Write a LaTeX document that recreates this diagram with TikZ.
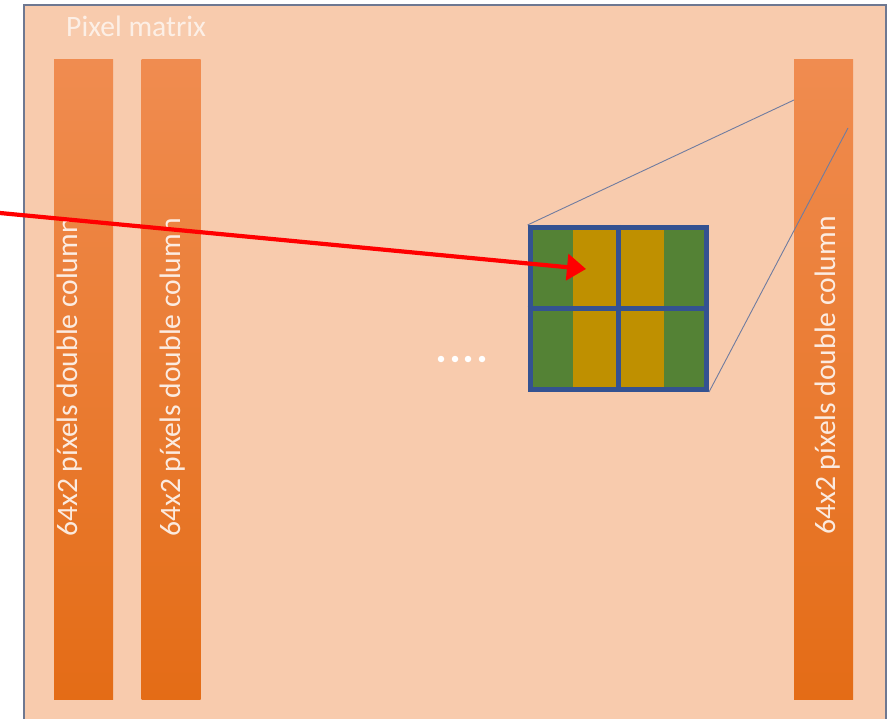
\documentclass[tikz,border=0pt]{standalone}
\usepackage{fontspec}
\setmainfont{Carlito}
\usetikzlibrary{arrows.meta}
\definecolor{bgpeach}{RGB}{248,203,173}
\definecolor{colTop}{RGB}{240,140,80}
\definecolor{colBot}{RGB}{228,108,22}
\definecolor{frameLine}{RGB}{110,120,145}
\definecolor{cellGreen}{RGB}{84,130,53}
\definecolor{cellGold}{RGB}{191,144,0}
\definecolor{gridBlue}{RGB}{52,82,145}
\definecolor{zoomLine}{RGB}{112,124,160}
\definecolor{arrowRed}{RGB}{255,0,0}
\tikzset{
  colbar/.style={inner sep=0pt, minimum width=59pt, minimum height=639pt,
    top color=colTop, bottom color=colBot, draw=none},
  coltext/.style={rotate=90, anchor=base west, inner sep=0pt,
    text=white, text opacity=0.85, font=\fontsize{29.6}{30}\selectfont},
  zoomline/.style={draw=zoomLine, line width=0.9pt},
  pointer/.style={draw=arrowRed, line width=4.2pt,
    -{Triangle[length=19pt, width=26pt]}},
  dotmark/.style={circle, fill=white, inner sep=0pt, minimum size=6.5pt},
}
\begin{document}
\begin{tikzpicture}[x=1pt, y=-1pt]
\useasboundingbox (0,0) rectangle (894,719);
\fill[white] (0,0) rectangle (894,719);

% outer matrix frame
\node[draw=frameLine, fill=bgpeach, line width=1.5pt, inner sep=0pt,
  minimum width=862pt, minimum height=730pt] (matrix) at (455,370) {};
\node[anchor=base west, inner sep=0pt, text=white, text opacity=0.7,
  font=\fontsize{29.6}{30}\selectfont] (title) at (66,37) {Pixel matrix};

% pixel double columns
\node[colbar] (c1) at (83.5,379.5) {};
\node[colbar] (c2) at (171,379.5) {};
\node[colbar] (c3) at (823.5,379.5) {};
\node[coltext] (t1) at (77,537) {64x2 píxels double column};
\node[coltext] (t2) at (180,537) {64x2 píxels double column};
\node[coltext] (t3) at (835,535) {64x2 píxels double column};

% ellipsis dots
\node[dotmark] (d1) at (441,359) {};
\node[dotmark] (d2) at (455,359) {};
\node[dotmark] (d3) at (468,359) {};
\node[dotmark] (d4) at (482,359) {};

% magnified 2x2 pixel block
\fill[cellGreen] (530,227.5) rectangle (706.5,389.5);
\fill[cellGold] (573,227.5) rectangle (664,389.5);
\node[draw=gridBlue, line width=5pt, inner sep=0pt,
  minimum width=176.5pt, minimum height=162pt] (grid) at (618.25,308.5) {};
\draw[gridBlue, line width=5pt] (grid.north) -- (grid.south);
\draw[gridBlue, line width=5pt] (grid.west) -- (grid.east);

% zoom guide lines
\coordinate (zTop) at (794,100);
\coordinate (zBot) at (848,128);
\draw[zoomline] (grid.north west) -- (zTop);
\draw[zoomline] (grid.south east) -- (zBot);

% pointer arrow
\coordinate (src) at (0,213);
\coordinate (tip) at (586,269);
\draw[pointer] (src) -- (tip);
\end{tikzpicture}
\end{document}
